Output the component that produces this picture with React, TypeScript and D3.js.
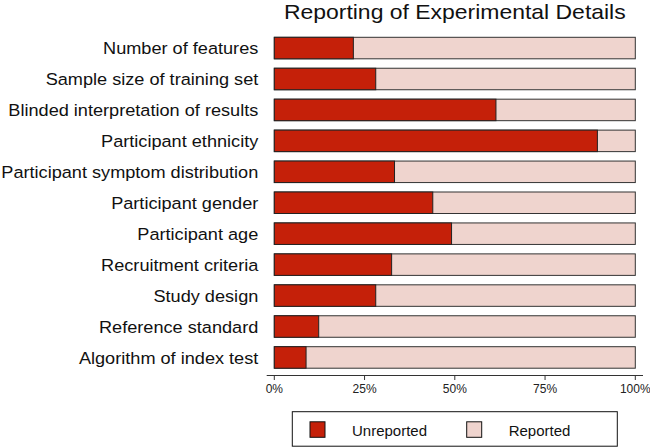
import React from "react";
import * as d3 from "d3";

const categories = [
  "Number of features",
  "Sample size of training set",
  "Blinded interpretation of results",
  "Participant ethnicity",
  "Participant symptom distribution",
  "Participant gender",
  "Participant age",
  "Recruitment criteria",
  "Study design",
  "Reference standard",
  "Algorithm of index test",
];
const unreported = [0.219, 0.281, 0.614, 0.895, 0.333, 0.439, 0.491, 0.325, 0.281, 0.123, 0.088];
const xTicks = [0, 0.25, 0.5, 0.75, 1];
const seriesNames = ["Unreported", "Reported"];
const title = "Reporting of Experimental Details";

const RED = "#C52009";
const PINK = "#EFD4CE";
const FONT = "'Liberation Sans', Arial, Helvetica, sans-serif";

export default function App() {
  const W = 650, H = 447;
  const x = d3.scaleLinear().domain([0, 1]).range([274.3, 635.3]);
  const y = d3.scaleBand<string>().domain(categories).range([37.3, 368.2]).paddingInner(0.305).paddingOuter(0);
  const bw = y.bandwidth();
  const axisY = 375.5;
  const fmt = d3.format(".0%");
  const stack = categories.map((c, i) => ({ c, u: unreported[i] }));

  return (
    <svg width={W} height={H} style={{ position: "absolute", left: 0, top: 0, background: "#fff" }} fontFamily={FONT}>
      <rect x={0} y={0} width={W} height={H} fill="#fff" />
      <text transform={`translate(${(x(0) + x(1)) / 2},18.5) scale(1.12,1)`} textAnchor="middle" fontSize={20.5} fill="#111">{title}</text>
      {stack.map((d) => {
        const yy = y(d.c)!;
        return (
          <g key={d.c}>
            <rect x={x(0)} y={yy} width={x(1) - x(0)} height={bw} fill={PINK} stroke="#333" strokeWidth={1} />
            <rect x={x(0)} y={yy} width={x(d.u) - x(0)} height={bw} fill={RED} stroke="#222" strokeWidth={1} />
            <text transform={`translate(258.3,${yy + bw / 2 + 6.3}) scale(1.1,1)`} textAnchor="end" fontSize={16.5} fill="#111">{d.c}</text>
          </g>
        );
      })}
      <line x1={266.7} x2={643} y1={axisY} y2={axisY} stroke="#333" strokeWidth={1} />
      {xTicks.map((t) => (
        <g key={t}>
          <line x1={x(t)} x2={x(t)} y1={axisY} y2={axisY + 4.5} stroke="#333" strokeWidth={1} />
          <text x={x(t)} y={393.3} textAnchor="middle" fontSize={12} fill="#222">{fmt(t)}</text>
        </g>
      ))}
      <rect x={292.3} y={411.7} width={325} height={34.5} fill="#fff" stroke="#111" strokeWidth={1} />
      {seriesNames.map((s, i) => {
        const kx = i === 0 ? 310 : 466.7;
        return (
          <g key={s}>
            <rect x={kx} y={421.8} width={15} height={15.5} fill={i === 0 ? RED : PINK} stroke="#111" strokeWidth={1} />
            <text x={kx + 42} y={435.5} fontSize={15} fill="#111">{s}</text>
          </g>
        );
      })}
    </svg>
  );
}
